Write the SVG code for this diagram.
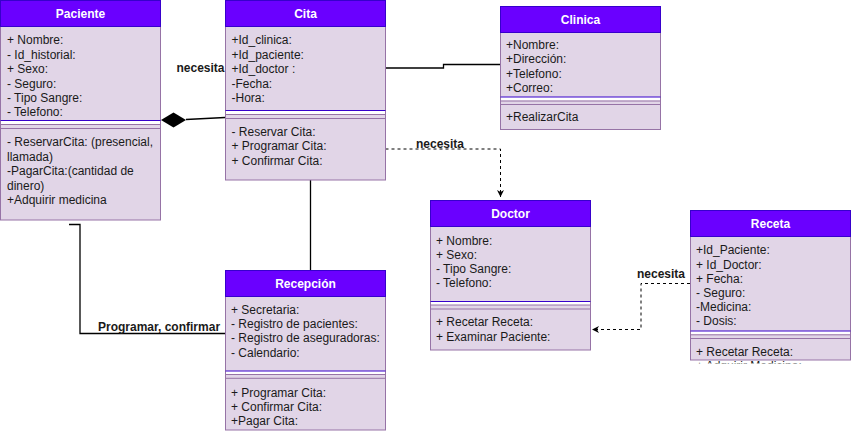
<svg xmlns="http://www.w3.org/2000/svg" width="851" height="434" viewBox="0 0 851 434">
<style>
.hdr{fill:#6a00ff;stroke:#3700cc;stroke-width:1}
.body{fill:#e1d5e7;stroke:#9673a6;stroke-width:1}
.sw{fill:#ffffff;stroke:none}
.l1{stroke:#3700cc;stroke-width:1}
.l2{stroke:#9673a6;stroke-width:1}
.ttl{font-family:"Liberation Sans",Arial,sans-serif;font-size:12px;font-weight:bold;fill:#ffffff;text-anchor:middle}
.t{font-family:"Liberation Sans",Arial,sans-serif;font-size:12px;fill:#1a1a1a}
.lbl{font-family:"Liberation Sans",Arial,sans-serif;font-size:12px;font-weight:bold;fill:#1a1a1a}
.edge{fill:none;stroke:#000000;stroke-width:1.3}
.dash{fill:none;stroke:#000000;stroke-width:1;stroke-dasharray:3 3}
</style>
<defs>
<marker id="arr" viewBox="-8 -4 9 8" markerWidth="9" markerHeight="8" refX="0" refY="0" orient="auto" markerUnits="userSpaceOnUse">
<path d="M0,0 L-7,-3.5 L-5,0 L-7,3.5 Z" fill="#000000"/>
</marker>
<clipPath id="rclip"><rect x="690" y="358" width="161" height="5.5"/></clipPath>
</defs>

<g id="connectors">
<path class="edge" d="M69,224.5 H80 V333.5 H225"/>
<polygon points="161,120 173.5,112.5 186,120 173.5,127.5" fill="#000000"/>
<path class="edge" d="M186,119.5 L225,117.5"/>
<path class="edge" d="M385.5,68 H443.5 V64.5 H501"/>
<path class="dash" d="M385.5,149 H500.5 V197" marker-end="url(#arr)"/>
<path class="dash" d="M690,283.5 H641 V329.5 H592" marker-end="url(#arr)"/>
<path class="edge" d="M310.5,180 V270"/>
<text class="lbl" x="98" y="331">Programar, confirmar</text>
<text class="lbl" x="176.5" y="72">necesita</text>
<text class="lbl" x="416" y="148">necesita</text>
<text class="lbl" x="637" y="278">necesita</text>
</g>

<g id="paciente">
<rect class="body" x="0.5" y="26" width="160" height="194"/>
<rect class="sw" x="1" y="120.5" width="159" height="3.5"/>
<line class="l1" x1="0.5" y1="120.5" x2="160.5" y2="120.5"/>
<line class="l2" x1="0.5" y1="124.5" x2="160.5" y2="124.5"/>
<line class="l2" x1="0.5" y1="128.5" x2="160.5" y2="128.5"/>
<rect class="hdr" x="0.5" y="0.5" width="160" height="26"/>
<text class="ttl" x="80.5" y="17.5">Paciente</text>
<text class="t" x="7" y="44.3">+ Nombre:</text>
<text class="t" x="7" y="58.7">- Id_historial:</text>
<text class="t" x="7" y="73.1">+ Sexo:</text>
<text class="t" x="7" y="87.5">- Seguro:</text>
<text class="t" x="7" y="101.9">- Tipo Sangre:</text>
<text class="t" x="7" y="116.3">- Telefono:</text>
<text class="t" x="7" y="146.3">- ReservarCita: (presencial,</text>
<text class="t" x="7" y="160.7">llamada)</text>
<text class="t" x="7" y="175.1">-PagarCita:(cantidad de</text>
<text class="t" x="7" y="189.5">dinero)</text>
<text class="t" x="7" y="203.9">+Adquirir medicina</text>
</g>

<g id="cita">
<rect class="body" x="225.5" y="26" width="160" height="154"/>
<rect class="sw" x="226" y="110.5" width="159" height="3.5"/>
<line class="l1" x1="225.5" y1="110.5" x2="385.5" y2="110.5"/>
<line class="l2" x1="225.5" y1="114.5" x2="385.5" y2="114.5"/>
<line class="l2" x1="225.5" y1="118.5" x2="385.5" y2="118.5"/>
<rect class="hdr" x="225.5" y="0.5" width="160" height="26"/>
<text class="ttl" x="305.5" y="17.5">Cita</text>
<text class="t" x="231.5" y="44.3">+Id_clinica:</text>
<text class="t" x="231.5" y="58.7">+Id_paciente:</text>
<text class="t" x="231.5" y="73.1">+Id_doctor :</text>
<text class="t" x="231.5" y="87.5">-Fecha:</text>
<text class="t" x="231.5" y="101.9">-Hora:</text>
<text class="t" x="231.5" y="136">- Reservar Cita:</text>
<text class="t" x="231.5" y="150.4">+ Programar Cita:</text>
<text class="t" x="231.5" y="164.8">+ Confirmar Cita:</text>
</g>

<g id="clinica">
<rect class="body" x="500.5" y="32" width="160" height="97.5"/>
<rect class="sw" x="501" y="97" width="159" height="3.5"/>
<line class="l1" x1="500.5" y1="97" x2="660.5" y2="97"/>
<line class="l2" x1="500.5" y1="101" x2="660.5" y2="101"/>
<line class="l2" x1="500.5" y1="104.5" x2="660.5" y2="104.5"/>
<rect class="hdr" x="500.5" y="6.5" width="160" height="26"/>
<text class="ttl" x="580.5" y="23.5">Clinica</text>
<text class="t" x="506" y="48.5">+Nombre:</text>
<text class="t" x="506" y="63">+Dirección:</text>
<text class="t" x="506" y="77.5">+Telefono:</text>
<text class="t" x="506" y="92">+Correo:</text>
<text class="t" x="506" y="121.3">+RealizarCita</text>
</g>

<g id="doctor">
<rect class="body" x="430.5" y="226" width="160" height="124"/>
<rect class="sw" x="431" y="301.5" width="159" height="3.5"/>
<line class="l1" x1="430.5" y1="301.5" x2="590.5" y2="301.5"/>
<line class="l2" x1="430.5" y1="305" x2="590.5" y2="305"/>
<line class="l2" x1="430.5" y1="309" x2="590.5" y2="309"/>
<rect class="hdr" x="430.5" y="200.5" width="160" height="26"/>
<text class="ttl" x="510.5" y="217.5">Doctor</text>
<text class="t" x="436" y="244.8">+ Nombre:</text>
<text class="t" x="436" y="259">+ Sexo:</text>
<text class="t" x="436" y="273.2">- Tipo Sangre:</text>
<text class="t" x="436" y="287.4">- Telefono:</text>
<text class="t" x="436" y="326.3">+ Recetar Receta:</text>
<text class="t" x="436" y="340.7">+ Examinar Paciente:</text>
</g>

<g id="receta">
<rect class="body" x="690.5" y="236" width="160" height="124"/>
<rect class="sw" x="691" y="331" width="159" height="3.5"/>
<line class="l1" x1="690.5" y1="331" x2="850.5" y2="331"/>
<line class="l2" x1="690.5" y1="334.8" x2="850.5" y2="334.8"/>
<line class="l2" x1="690.5" y1="338.5" x2="850.5" y2="338.5"/>
<rect class="hdr" x="690.5" y="210.5" width="160" height="26"/>
<text class="ttl" x="770.5" y="228">Receta</text>
<text class="t" x="696" y="254.3">+Id_Paciente:</text>
<text class="t" x="696" y="268.5">+ Id_Doctor:</text>
<text class="t" x="696" y="282.7">+ Fecha:</text>
<text class="t" x="696" y="296.9">- Seguro:</text>
<text class="t" x="696" y="311.1">-Medicina:</text>
<text class="t" x="696" y="325.3">- Dosis:</text>
<text class="t" x="696" y="356">+ Recetar Receta:</text>
<text class="t" x="696" y="370.4" clip-path="url(#rclip)">+ Adquirir Medicina:</text>
</g>

<g id="recepcion">
<rect class="body" x="225.5" y="296" width="160" height="134"/>
<rect class="sw" x="226" y="371" width="159" height="3.5"/>
<line class="l1" x1="225.5" y1="371" x2="385.5" y2="371"/>
<line class="l2" x1="225.5" y1="374.5" x2="385.5" y2="374.5"/>
<line class="l2" x1="225.5" y1="378.3" x2="385.5" y2="378.3"/>
<rect class="hdr" x="225.5" y="270.5" width="160" height="26"/>
<text class="ttl" x="305.5" y="288">Recepción</text>
<text class="t" x="231" y="313.6">+ Secretaria:</text>
<text class="t" x="231" y="328">- Registro de pacientes:</text>
<text class="t" x="231" y="342.4">- Registro de aseguradoras:</text>
<text class="t" x="231" y="356.8">- Calendario:</text>
<text class="t" x="231" y="396.6">+ Programar Cita:</text>
<text class="t" x="231" y="410.5">+ Confirmar Cita:</text>
<text class="t" x="231" y="425">+Pagar Cita:</text>
</g>
</svg>
